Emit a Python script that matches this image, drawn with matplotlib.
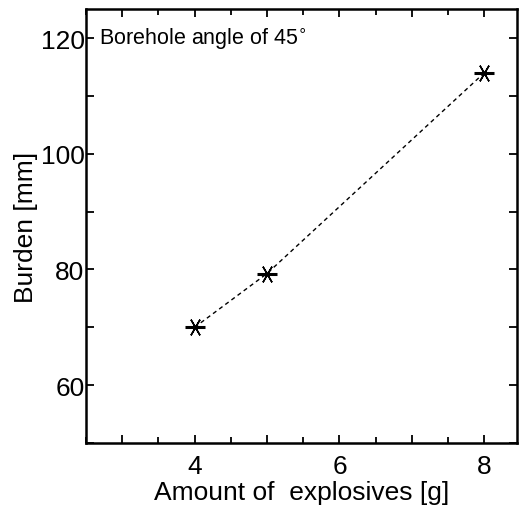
import matplotlib.pyplot as plt
from matplotlib.ticker import MultipleLocator, FuncFormatter

plt.rcParams['font.family'] = ['Liberation Sans', 'DejaVu Sans']

explosives = [4, 5, 8]
burden = [70.0, 79.3, 114.0]

fig = plt.figure(figsize=(5.23, 5.06), dpi=100)
ax = fig.add_axes([0.1644, 0.1225, 0.824, 0.8575])

ax.plot(explosives, burden, color="black", linestyle=(0, (3, 2.5)), linewidth=1.0,
        marker=(6, 2, 90), markersize=13, markeredgewidth=1.1)
# thicker horizontal bar of the asterisk
ax.plot(explosives, burden, linestyle="none", marker="_", color="black",
        markersize=15, markeredgewidth=2.2)

ax.set_xlim(2.5, 8.45)
ax.set_ylim(50, 125)
# ticks every unit, labels only every other one
ax.xaxis.set_major_locator(MultipleLocator(1))
ax.xaxis.set_minor_locator(MultipleLocator(0.5))
ax.xaxis.set_major_formatter(FuncFormatter(lambda v, p: f"{v:.0f}" if round(v) % 2 == 0 else ""))
ax.yaxis.set_major_locator(MultipleLocator(10))
ax.yaxis.set_major_formatter(FuncFormatter(lambda v, p: f"{v:.0f}" if round(v) % 20 == 0 else ""))

ax.tick_params(which="both", direction="in", top=True, right=True, width=1.3,
               labelsize=19, pad=1)
ax.tick_params(axis="x", which="both", pad=8)
ax.tick_params(which="major", length=6)
ax.tick_params(which="minor", length=4)
for s in ax.spines.values():
    s.set_linewidth(1.8)

ax.text(0.03, 0.962, "Borehole angle of 45$^{\\circ}$", transform=ax.transAxes,
        fontsize=15.5, va="top", ha="left")
ax.set_xlabel("Amount of  explosives [g]", fontsize=19, labelpad=1)
ax.set_ylabel("Burden [mm]", fontsize=19, labelpad=2)

fig.savefig("out.png", dpi=100)
